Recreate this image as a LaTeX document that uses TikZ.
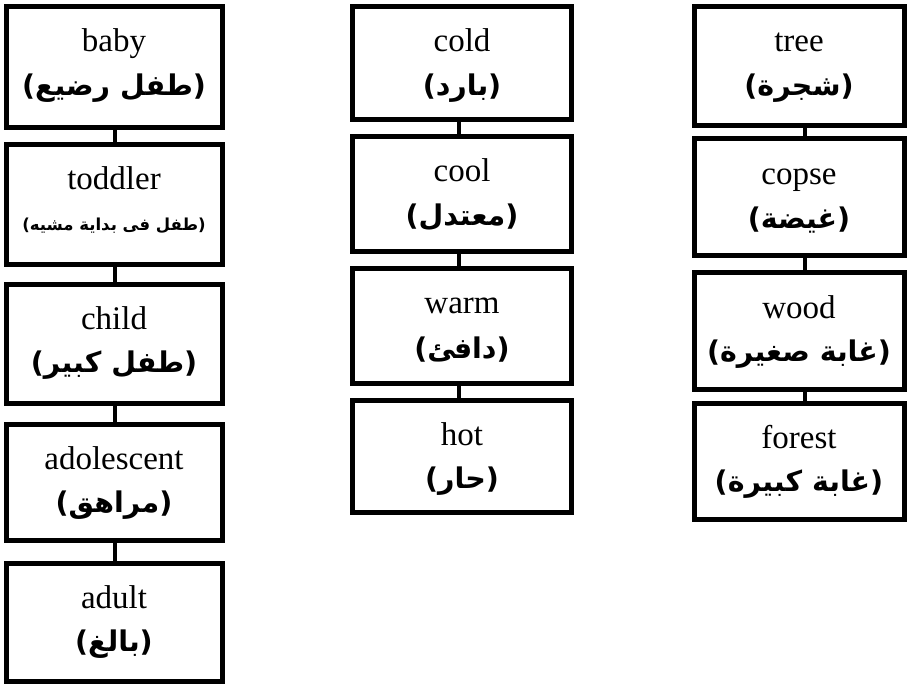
\documentclass[tikz,border=0pt]{standalone}
\usepackage{fontspec}
\setmainfont{Liberation Serif}
\newfontfamily\arabicfont[Script=Arabic]{DejaVu Sans}
\TeXXeTstate=1
\tikzset{
  wbox/.style={draw=black, line width=5pt, inner sep=0pt, rectangle},
  entext/.style={anchor=base, inner sep=0pt, font=\fontsize{33}{36}\selectfont},
  artext/.style={anchor=center, inner sep=0pt, font=\fontsize{28.5}{32}\arabicfont\bfseries},
  arsmall/.style={anchor=center, inner sep=0pt, font=\fontsize{16.5}{20}\arabicfont\bfseries},
  conn/.style={draw=black, line width=4.5pt},
}
% #1 name, #2 xc, #3 yc, #4 width, #5 height, #6 english, #7 arabic, #8 arabic style
\newcommand\wordbox[8]{%
  \node[wbox, minimum width=#4pt, minimum height=#5pt] (#1) at (#2,#3) {};
  \node[entext] (#1en) at ([yshift=-48pt]#1.north) {#6};
  \node[#8] (#1ar) at ([yshift=-84pt]#1.north) {#7};
}
\begin{document}
\begin{tikzpicture}[x=1pt,y=-1pt]
\useasboundingbox (0,0) rectangle (907,685);
% left column
\wordbox{l1}{114}{67}{216}{121}{baby}{\beginR(طفل رضيع)\endR}{artext}
\wordbox{l2}{114}{204}{216}{120}{toddler}{\beginR(طفل فى بداية مشيه)\endR}{arsmall}
\wordbox{l3}{114}{343.5}{216}{119}{child}{\beginR(طفل كبير)\endR}{artext}
\wordbox{l4}{114}{482}{216}{116}{adolescent}{\beginR(مراهق)\endR}{artext}
\wordbox{l5}{114}{622}{216}{118}{adult}{\beginR(بالغ)\endR}{artext}
% middle column
\wordbox{m1}{462}{62.75}{219}{112.5}{cold}{\beginR(بارد)\endR}{artext}
\wordbox{m2}{462}{193.5}{219}{115}{cool}{\beginR(معتدل)\endR}{artext}
\wordbox{m3}{462}{325.5}{219}{115}{warm}{\beginR(دافئ)\endR}{artext}
\wordbox{m4}{462}{456}{219}{112}{hot}{\beginR(حار)\endR}{artext}
% right column
\wordbox{r1}{799}{66}{210}{119}{tree}{\beginR(شجرة)\endR}{artext}
\wordbox{r2}{799}{197}{210}{117}{copse}{\beginR(غيضة)\endR}{artext}
\wordbox{r3}{799}{331}{210}{117}{wood}{\beginR(غابة صغيرة)\endR}{artext}
\wordbox{r4}{799}{461}{210}{116}{forest}{\beginR(غابة كبيرة)\endR}{artext}
% connectors
\foreach \a/\b in {l1/l2,l2/l3,l3/l4,l4/l5}
  \draw[conn] ([xshift=1pt]\a.south) -- ([xshift=1pt]\b.north);
\foreach \a/\b in {m1/m2,m2/m3,m3/m4}
  \draw[conn] ([xshift=-3pt]\a.south) -- ([xshift=-3pt]\b.north);
\foreach \a/\b in {r1/r2,r2/r3,r3/r4}
  \draw[conn] ([xshift=6pt]\a.south) -- ([xshift=6pt]\b.north);
\end{tikzpicture}
\end{document}
